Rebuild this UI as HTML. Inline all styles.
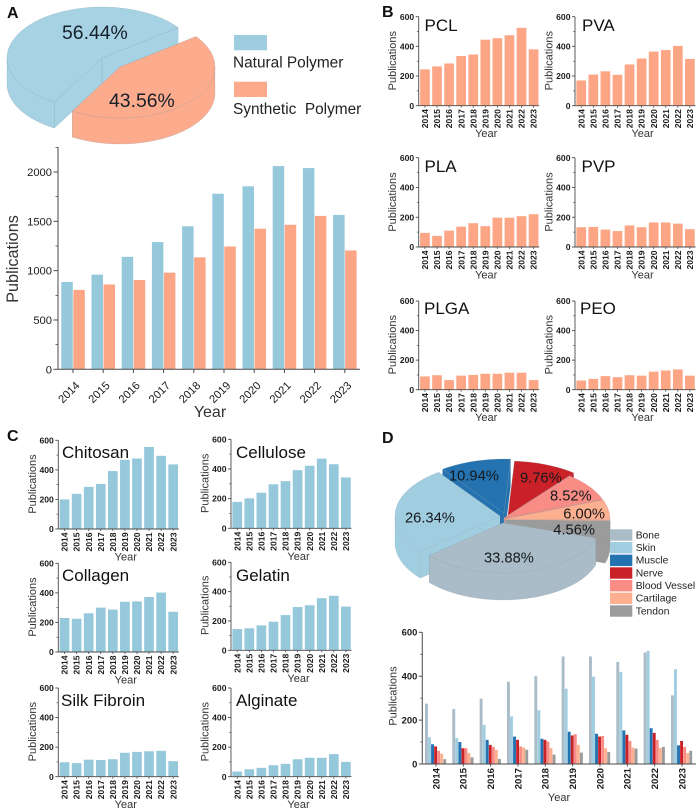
<!DOCTYPE html>
<html lang="en">
<head>
<meta charset="utf-8">
<title>Polymer publications by year</title>
<style>
html,body{margin:0;padding:0;background:#fff;}
body{width:700px;height:812px;overflow:hidden;}
svg{display:block;font-family:"Liberation Sans",Arial,sans-serif;}
</style>
</head>
<body>
<svg id="figure" width="700" height="812" viewBox="0 0 700 812" xmlns="http://www.w3.org/2000/svg">
  <rect x="0" y="0" width="700" height="812" fill="#ffffff"/>
  <text x="7" y="18" font-size="16" font-weight="700" fill="#111">A</text>
  <text x="382" y="17" font-size="16" font-weight="700" fill="#111">B</text>
  <text x="7" y="441" font-size="16" font-weight="700" fill="#111">C</text>
  <text x="382" y="443" font-size="16" font-weight="700" fill="#111">D</text>
</svg>
<script>
// ---------- data ----------
const years = ['2014','2015','2016','2017','2018','2019','2020','2021','2022','2023'];

const polymerShares = [56.44, 43.56];
const polymerNames = ['Natural Polymer', 'Synthetic  Polymer'];
const naturalValues = [885, 960, 1140, 1290, 1450, 1780, 1855, 2060, 2040, 1565];
const syntheticValues = [805, 860, 905, 980, 1135, 1245, 1425, 1465, 1555, 1205];
const summaryTicks = [0, 500, 1000, 1500, 2000];

const panelTicks = [0, 200, 400, 600];
const pclValues = [245, 265, 285, 335, 345, 445, 455, 475, 525, 380];
const pvaValues = [170, 210, 232, 208, 278, 318, 365, 375, 403, 315];
const plaValues = [95, 75, 110, 137, 160, 140, 197, 197, 207, 220];
const pvpValues = [133, 135, 117, 107, 145, 133, 165, 165, 157, 120];
const plgaValues = [90, 98, 65, 95, 100, 108, 108, 115, 115, 65];
const peoValues = [62, 73, 92, 85, 98, 95, 122, 130, 137, 95];

const chitosanValues = [200, 238, 285, 305, 392, 468, 477, 555, 495, 437];
const celluloseValues = [178, 202, 240, 297, 318, 392, 422, 470, 432, 343];
const collagenValues = [230, 225, 262, 300, 287, 340, 342, 372, 402, 272];
const gelatinValues = [145, 150, 170, 195, 240, 295, 307, 355, 372, 298];
const silkValues = [98, 92, 115, 113, 118, 162, 168, 172, 175, 105];
const alginateValues = [35, 50, 60, 78, 87, 118, 128, 128, 153, 100];

const tissueNames = ['Bone', 'Skin', 'Muscle', 'Nerve', 'Blood Vessel', 'Cartilage', 'Tendon'];
const tissueShares = [33.88, 26.34, 10.94, 9.76, 8.52, 6.00, 4.56];
const boneValues = [275, 250, 298, 375, 400, 490, 490, 465, 508, 313];
const skinValues = [122, 118, 178, 217, 245, 343, 398, 420, 516, 432];
const muscleValues = [90, 100, 110, 125, 115, 147, 138, 153, 163, 85];
const nerveValues = [80, 72, 87, 110, 110, 130, 125, 133, 142, 105];
const bloodVesselValues = [60, 72, 78, 80, 102, 136, 128, 105, 110, 78];
const cartilageValues = [47, 50, 65, 75, 72, 87, 72, 75, 73, 50];
const tendonValues = [22, 30, 23, 65, 43, 52, 55, 70, 78, 60];

// ---------- helpers ----------
const NS = 'http://www.w3.org/2000/svg';
const svg = document.getElementById('figure');
const BLUE = '#96c8dc', ORANGE = '#fca686', INK = '#1c1c1c', AXIS = '#4a4a4a';
const TISSUE_COLORS = ['#a9bcc7', '#a0cde0', '#2473b0', '#c92127', '#f98d85', '#fdb08f', '#9b9b9b'];

function mk(tag, attrs, parent, txt) {
  const el = document.createElementNS(NS, tag);
  for (const k in attrs) el.setAttribute(k, attrs[k]);
  if (txt !== undefined) el.textContent = txt;
  parent.appendChild(el);
  return el;
}
function slug(s) { return s.trim().toLowerCase().replace(/\s+/g, '-'); }

function line(parent, x1, y1, x2, y2, w, name) {
  const el = mk('line', {x1: x1, y1: y1, x2: x2, y2: y2, stroke: AXIS, 'stroke-width': w}, parent);
  
  
  return el;
}

function yAxis(parent, o) {
  const scale = v => o.y0 - v / o.max * (o.y0 - o.yTop);
  line(parent, o.x, o.yAxisEnd === undefined ? o.yTop : o.yAxisEnd, o.x, o.y0, o.w, 'y-axis-line');
  line(parent, o.x, o.y0, o.xEnd, o.y0, o.w, 'x-axis-line');
  o.ticks.forEach((t, i) => {
    line(parent, o.x - o.major, scale(t), o.x, scale(t), o.w, 'y-tick');
    if (i < o.ticks.length - 1 || o.extraMinor) {
      const step = o.ticks[1] - o.ticks[0];
      line(parent, o.x - o.minor, scale(t + step / 2), o.x, scale(t + step / 2), o.w * 0.8, 'y-minor-tick');
    }
    const label = mk('text', {x: o.x - o.major - 1.5, y: scale(t) + o.fs * 0.36, 'text-anchor': 'end', 'font-size': o.fs, 'font-weight': o.bold ? 700 : 400, fill: INK}, parent, String(t));
    
    
  });
  return scale;
}

function rotatedTitle(parent, x, y, size, txt) {
  const el = mk('text', {x: x, y: y, 'text-anchor': 'middle', 'font-size': size, fill: '#333', transform: 'rotate(-90 ' + x + ' ' + y + ')'}, parent, txt);
  
  
}
function yearTitle(parent, x, y, size) {
  const el = mk('text', {x: x, y: y, 'text-anchor': 'middle', 'font-size': size, fill: '#333'}, parent, 'Year');
  
  
}

// Small single-series panel (sections B and C)
function drawPanel(o) {
  const g = mk('g', {}, svg);
  
  
  const step = 12.07, barW = 9.7;
  const barX = i => o.x + 1.4 + i * step;
  const yS = v => o.y0 - v / 600 * (o.y0 - o.yTop);
  o.values.forEach((v, i) => {
    const bar = mk('rect', {x: barX(i), y: yS(v), width: barW, height: o.y0 - yS(v), fill: o.color}, g);
    
    
  });
  const scale = yAxis(g, {x: o.x, y0: o.y0, yTop: o.yTop, xEnd: o.x + 120.5, max: 600, ticks: panelTicks, w: 0.9, major: 3, minor: 1.8, fs: 8.6, bold: true});
  years.forEach((yr, i) => {
    const cx = barX(i) + barW / 2;
    line(g, cx, o.y0, cx, o.y0 + 2, 0.8, 'x-tick');
    const lx = cx + 3.1, ly = o.y0 + 3.4;
    const t = mk('text', {x: lx, y: ly, 'text-anchor': 'end', 'font-size': 8.6, 'font-weight': 700, fill: INK, transform: 'rotate(-90 ' + lx + ' ' + ly + ')'}, g, yr);
    
    
  });
  rotatedTitle(g, o.x - 22.5, o.y0 - 45, 11, 'Publications');
  yearTitle(g, o.x + 67.5, o.y0 + 31.5, 11);
  const title = mk('text', {x: o.titleX, y: o.titleY, 'font-size': 17, fill: '#111'}, g, o.title);
  
  
  return scale;
}

// Extruded pie: shares run clockwise from startDeg
function drawPie(o) {
  const g = mk('g', {}, svg);
  
  
  let a = o.start;
  const slices = o.shares.map((share, i) => {
    const a0 = a, a1 = a - share * 3.6;
    a = a1;
    const off = o.offsets[i];
    return {i: i, a0: a0, a1: a1, mid: (a0 + a1) / 2, dx: off[0], dy: off[1], s: off[2] || 1};
  });
  slices.slice().sort((p, q) => Math.sin(q.mid * Math.PI / 180) - Math.sin(p.mid * Math.PI / 180)).forEach(sl => {
    const cx = o.cx + sl.dx, cy = o.cy + sl.dy, rx = o.rx * sl.s, ry = o.ry * sl.s;
    const pt = (t, d) => [cx + rx * Math.cos(t * Math.PI / 180), cy - ry * Math.sin(t * Math.PI / 180) + (d || 0)];
    const samples = (from, to, d) => {
      const pts = [], n = Math.max(2, Math.ceil(Math.abs(from - to) / 2));
      for (let k = 0; k <= n; k++) pts.push(pt(from + (to - from) * k / n, d));
      return pts;
    };
    const toPath = pts => 'M' + pts.map(p => p[0].toFixed(2) + ' ' + p[1].toFixed(2)).join('L') + 'Z';
    const color = o.colors[sl.i];
    const label = slug(o.names[sl.i]);
    const paint = {fill: color, stroke: o.edge, 'stroke-width': 0.5, 'stroke-opacity': 0.35, 'stroke-linejoin': 'round'};
    [sl.a0, sl.a1].forEach(t => {
      const p = pt(t), q = pt(t, o.depth);
      const cut = mk('path', Object.assign({d: toPath([[cx, cy], p, q, [cx, cy + o.depth]])}, paint), g);
      
      
    });
    for (let k = -1; k <= 1; k++) {
      const lo = Math.max(sl.a1, -180 + 360 * k), hi = Math.min(sl.a0, 360 * k);
      if (hi > lo) {
        const wallPts = samples(hi, lo, 0).concat(samples(lo, hi, o.depth));
        const wall = mk('path', Object.assign({d: toPath(wallPts)}, paint), g);
        
        
      }
    }
    const top = mk('path', Object.assign({d: toPath([[cx, cy]].concat(samples(sl.a0, sl.a1, 0)))}, paint), g);
    
    
  });
  return g;
}

// ---------- section A ----------
const pieA = drawPie({name: 'polymer-share-pie', shares: polymerShares, names: polymerNames, colors: ['#a6d2e4', '#fdab8d'], start: 239.9,
  cx: 102, cy: 58, rx: 95, ry: 51, depth: 26, edge: '#6f8d9a', offsets: [[0, 0], [18, 9]]});
[[62, 39], [109, 107]].forEach((p, i) => {
  const t = mk('text', {x: p[0], y: p[1], 'font-size': 19.4, fill: '#16202a'}, pieA, polymerShares[i].toFixed(2) + '%');
  
  
});
polymerNames.forEach((n, i) => {
  const swatch = mk('rect', {x: 234, y: 35 + i * 46.7, width: 33, height: 15.3, fill: i ? '#fda98b' : '#9fcde0'}, svg);
  
  
  const t = mk('text', {x: 233, y: 67.7 + i * 46.5, 'font-size': 15.4, fill: '#222', style: 'white-space:pre'}, svg, n);
  
  
});

const chartA = mk('g', {}, svg);


const aY = v => 369.3 - v / 2000 * 197.3;
const aX = i => 61.3 + i * 30.2;
naturalValues.forEach((v, i) => {
  const bar = mk('rect', {x: aX(i), y: aY(v), width: 11.5, height: 369.3 - aY(v), fill: BLUE}, chartA);
  
  
});
syntheticValues.forEach((v, i) => {
  const bar = mk('rect', {x: aX(i) + 12, y: aY(v), width: 11.5, height: 369.3 - aY(v), fill: ORANGE}, chartA);
  
  
});
yAxis(chartA, {x: 58, y0: 369.3, yTop: 172, yAxisEnd: 147, xEnd: 360, max: 2000, ticks: summaryTicks, w: 1, major: 4.5, minor: 2.5, fs: 11.2, extraMinor: true});
years.forEach((yr, i) => {
  const cx = aX(i) + 11.7;
  line(chartA, cx, 369.3, cx, 373, 1, 'x-tick');
  const lx = cx - 1.5, ly = 395;
  const t = mk('text', {x: lx, y: ly, 'text-anchor': 'middle', 'font-size': 11.2, fill: INK, transform: 'rotate(-45 ' + lx + ' ' + ly + ')'}, chartA, yr);
  
  
});
rotatedTitle(chartA, 18, 259, 16.3, 'Publications');
yearTitle(chartA, 210, 417, 16);

// ---------- section B ----------
drawPanel({title: 'PCL', values: pclValues, color: ORANGE, x: 418.7, y0: 105.7, yTop: 16.7, titleX: 424.5, titleY: 31});
drawPanel({title: 'PVA', values: pvaValues, color: ORANGE, x: 575, y0: 105.7, yTop: 16.7, titleX: 582, titleY: 31});
drawPanel({title: 'PLA', values: plaValues, color: ORANGE, x: 418.7, y0: 247, yTop: 157.7, titleX: 424.5, titleY: 172});
drawPanel({title: 'PVP', values: pvpValues, color: ORANGE, x: 575, y0: 247, yTop: 157.7, titleX: 581.5, titleY: 172});
drawPanel({title: 'PLGA', values: plgaValues, color: ORANGE, x: 418.7, y0: 389.7, yTop: 301, titleX: 424, titleY: 314});
drawPanel({title: 'PEO', values: peoValues, color: ORANGE, x: 575, y0: 389.7, yTop: 301, titleX: 580, titleY: 314});

// ---------- section C ----------
drawPanel({title: 'Chitosan', values: chitosanValues, color: BLUE, x: 58.3, y0: 529, yTop: 440.3, titleX: 62, titleY: 458});
drawPanel({title: 'Cellulose', values: celluloseValues, color: BLUE, x: 231, y0: 528.3, yTop: 439.3, titleX: 236, titleY: 458});
drawPanel({title: 'Collagen', values: collagenValues, color: BLUE, x: 58.3, y0: 652, yTop: 563.3, titleX: 62, titleY: 581});
drawPanel({title: 'Gelatin', values: gelatinValues, color: BLUE, x: 231, y0: 650.3, yTop: 562.3, titleX: 236, titleY: 581});
drawPanel({title: 'Silk Fibroin', values: silkValues, color: BLUE, x: 58.3, y0: 776.7, yTop: 688, titleX: 61, titleY: 706});
drawPanel({title: 'Alginate', values: alginateValues, color: BLUE, x: 231, y0: 776.7, yTop: 688, titleX: 236, titleY: 706});

// ---------- section D ----------
const pieD = drawPie({name: 'tissue-share-pie', shares: tissueShares, names: tissueNames, colors: TISSUE_COLORS, start: -17.4,
  cx: 502, cy: 517, rx: 105, ry: 54, depth: 27, edge: '#8a9aa3',
  offsets: [[1, 6, 0.925], [-2, -1], [2, -4], [6, -2], [2, 1], [3, 2], [3, 3]]});
[[484, 562.3], [405, 522.7], [449, 480.7], [520, 482.3], [550, 500.7], [563.3, 518.3], [553.3, 534.3]].forEach((p, i) => {
  const t = mk('text', {x: p[0], y: p[1], 'font-size': 14.7, fill: '#14181c'}, pieD, tissueShares[i].toFixed(2) + '%');
  
  
});
tissueNames.forEach((n, i) => {
  const swatch = mk('rect', {x: 610, y: 529.3 + i * 12.67, width: 22.3, height: 11.4, fill: TISSUE_COLORS[i]}, svg);
  
  
  const t = mk('text', {x: 635.7, y: 538.3 + i * 12.67, 'font-size': 10.3, fill: '#222'}, svg, n);
  
  
});

const chartD = mk('g', {}, svg);


const dY = v => 764 - v / 600 * 131.7;
const tissueSeries = [boneValues, skinValues, muscleValues, nerveValues, bloodVesselValues, cartilageValues, tendonValues];
tissueSeries.forEach((series, s) => {
  series.forEach((v, i) => {
    const bar = mk('rect', {x: 425 + i * 27.33 + s * 3.05, y: dY(v), width: 2.9, height: 764 - dY(v), fill: TISSUE_COLORS[s]}, chartD);
    
    
  });
});
yAxis(chartD, {x: 422.3, y0: 764, yTop: 632.3, xEnd: 696, max: 600, ticks: panelTicks, w: 1, major: 3.5, minor: 2, fs: 9.4, bold: true});
years.forEach((yr, i) => {
  const cx = 436 + i * 27.33;
  line(chartD, cx, 764, cx, 766.5, 0.9, 'x-tick');
  const lx = cx + 3.4, ly = 768;
  const t = mk('text', {x: lx, y: ly, 'text-anchor': 'end', 'font-size': 9.6, 'font-weight': 700, fill: INK, transform: 'rotate(-90 ' + lx + ' ' + ly + ')'}, chartD, yr);
  
  
});
rotatedTitle(chartD, 396.7, 696, 11, 'Publications');
yearTitle(chartD, 559, 801, 11);
</script>
</body>
</html>
